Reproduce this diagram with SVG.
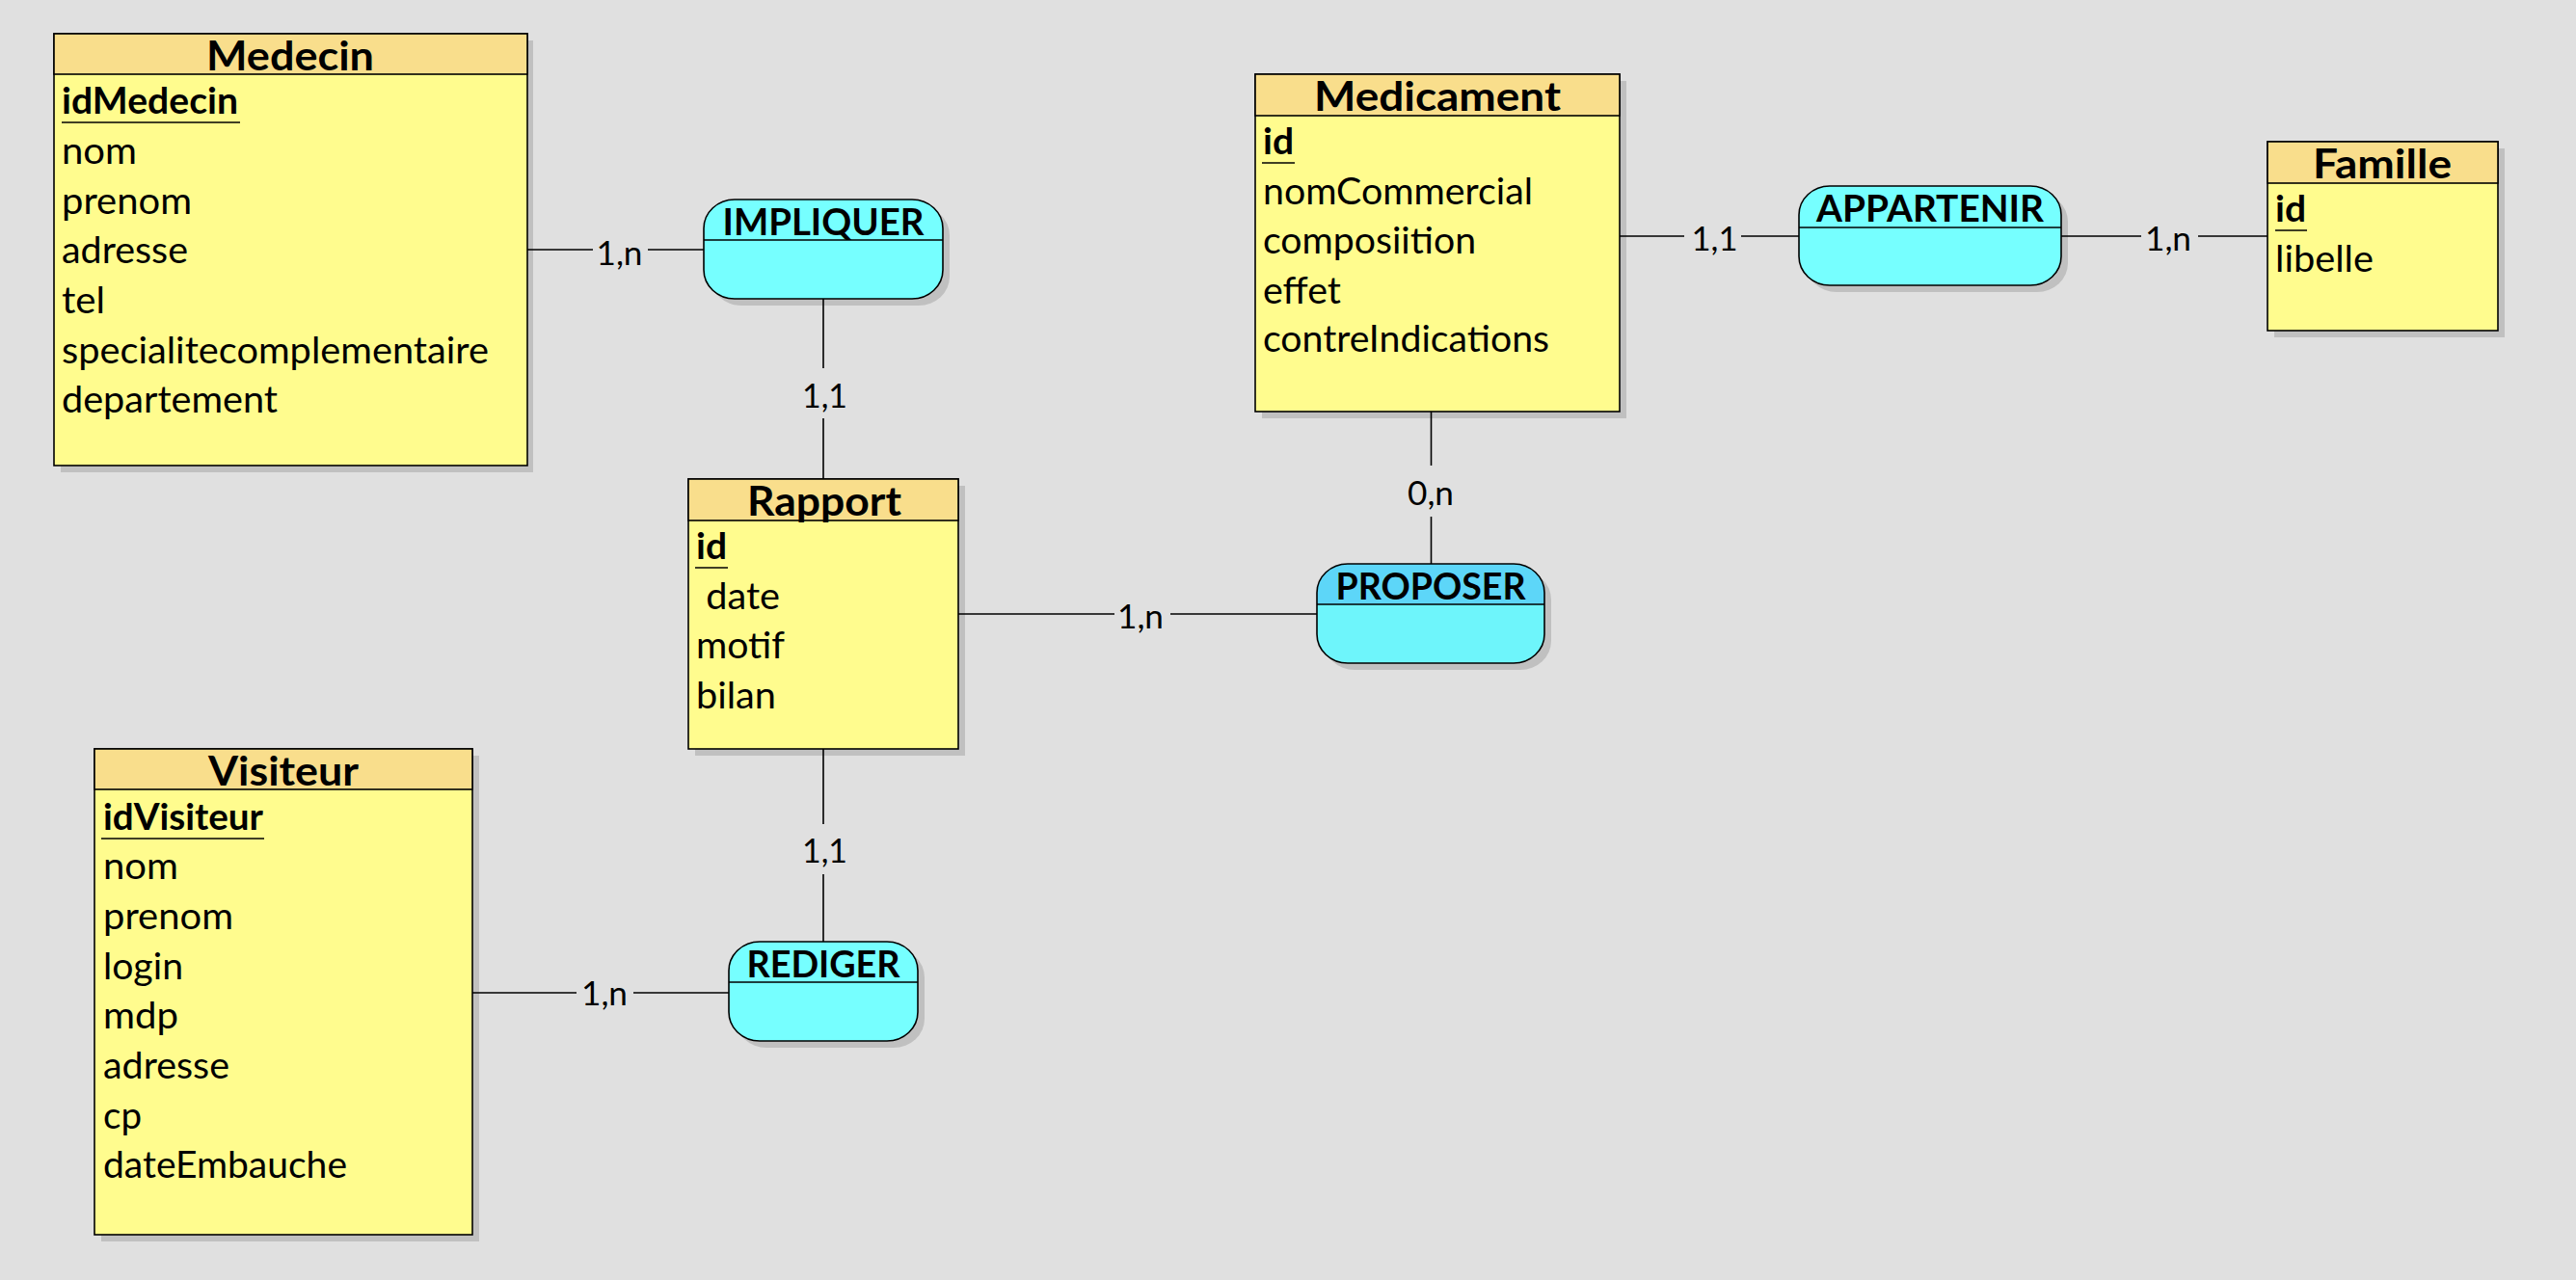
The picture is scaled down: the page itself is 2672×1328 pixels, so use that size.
<svg xmlns="http://www.w3.org/2000/svg" width="2672" height="1328" viewBox="0 0 2672 1328">
<style>
.sh{fill:#c0c0c0}
.eb{fill:#fffc8e;stroke:#000;stroke-width:1.6}
.eh{fill:#f9de8c;stroke:#000;stroke-width:1.6}
.rl{fill:#76ffff;stroke:#000;stroke-width:1.6}
.ln{stroke:#000;stroke-width:1.6;fill:none}
.ul{stroke:#000;stroke-width:1.5}
text{font-family:Lato,"Open Sans",sans-serif;fill:#000}
.t{font-size:42px;font-weight:700;text-anchor:middle}
.a{font-size:38.5px}
.k{font-size:38.5px;font-weight:700}
.r{font-size:38px;font-weight:700;text-anchor:middle}
.c{font-size:34px;text-anchor:middle}
</style>
<rect width="2672" height="1328" fill="#e0e0e0"/>

<g id="Medecin">
<rect class="sh" x="63" y="42" width="490" height="448"/>
<rect class="eb" x="56" y="35" width="491" height="448"/>
<rect class="eh" x="56" y="35" width="491" height="42"/>
<text class="t" x="301" y="73" textLength="174" lengthAdjust="spacingAndGlyphs">Medecin</text>
<text class="k" x="64" y="118" textLength="183" lengthAdjust="spacingAndGlyphs">idMedecin</text>
<line class="ul" x1="64" y1="127" x2="249" y2="127"/>
<text class="a" x="64" y="170" textLength="78" lengthAdjust="spacingAndGlyphs">nom</text>
<text class="a" x="64" y="222" textLength="135" lengthAdjust="spacingAndGlyphs">prenom</text>
<text class="a" x="64" y="273" textLength="131" lengthAdjust="spacingAndGlyphs">adresse</text>
<text class="a" x="64" y="325" textLength="45" lengthAdjust="spacingAndGlyphs">tel</text>
<text class="a" x="64" y="377" textLength="443" lengthAdjust="spacingAndGlyphs">specialitecomplementaire</text>
<text class="a" x="64" y="428" textLength="224" lengthAdjust="spacingAndGlyphs">departement</text>
</g>

<g id="IMPLIQUER">
<rect class="sh" x="737" y="214" width="248" height="103" rx="32" ry="30"/>
<rect class="rl" x="730" y="207" width="248" height="103" rx="32" ry="30"/>
<line class="ln" x1="730" y1="249" x2="978" y2="249"/>
<text class="r" x="854" y="244" textLength="209" lengthAdjust="spacingAndGlyphs">IMPLIQUER</text>
</g>

<g id="Rapport">
<rect class="sh" x="721" y="504" width="280" height="280"/>
<rect class="eb" x="714" y="497" width="280" height="280"/>
<rect class="eh" x="714" y="497" width="280" height="43"/>
<text class="t" x="855" y="535" textLength="160" lengthAdjust="spacingAndGlyphs">Rapport</text>
<text class="k" x="722" y="580" textLength="32" lengthAdjust="spacingAndGlyphs">id</text>
<line class="ul" x1="721" y1="589" x2="755" y2="589"/>
<text class="a" x="722" y="632" xml:space="preserve" textLength="87" lengthAdjust="spacingAndGlyphs"> date</text>
<text class="a" x="722" y="683" textLength="92" lengthAdjust="spacingAndGlyphs">motif</text>
<text class="a" x="722" y="735" textLength="83" lengthAdjust="spacingAndGlyphs">bilan</text>
</g>

<g id="Medicament">
<rect class="sh" x="1309" y="84" width="378" height="350"/>
<rect class="eb" x="1302" y="77" width="378" height="350"/>
<rect class="eh" x="1302" y="77" width="378" height="43"/>
<text class="t" x="1491" y="115" textLength="256" lengthAdjust="spacingAndGlyphs">Medicament</text>
<text class="k" x="1310" y="160" textLength="32" lengthAdjust="spacingAndGlyphs">id</text>
<line class="ul" x1="1309" y1="169" x2="1343" y2="169"/>
<text class="a" x="1310" y="212" textLength="280" lengthAdjust="spacingAndGlyphs">nomCommercial</text>
<text class="a" x="1310" y="263" textLength="221" lengthAdjust="spacingAndGlyphs">composiition</text>
<text class="a" x="1310" y="315" textLength="81" lengthAdjust="spacingAndGlyphs">effet</text>
<text class="a" x="1310" y="365" textLength="297" lengthAdjust="spacingAndGlyphs">contreIndications</text>
</g>

<g id="APPARTENIR">
<rect class="sh" x="1873" y="200" width="272" height="103" rx="32" ry="30"/>
<rect class="rl" x="1866" y="193" width="272" height="103" rx="32" ry="30"/>
<line class="ln" x1="1866" y1="236" x2="2138" y2="236"/>
<text class="r" x="2002" y="230" textLength="236" lengthAdjust="spacingAndGlyphs">APPARTENIR</text>
</g>

<g id="Famille">
<rect class="sh" x="2359" y="154" width="239" height="196"/>
<rect class="eb" x="2352" y="147" width="239" height="196"/>
<rect class="eh" x="2352" y="147" width="239" height="43"/>
<text class="t" x="2471" y="185" textLength="144" lengthAdjust="spacingAndGlyphs">Famille</text>
<text class="k" x="2360" y="230" textLength="32" lengthAdjust="spacingAndGlyphs">id</text>
<line class="ul" x1="2360" y1="239" x2="2393" y2="239"/>
<text class="a" x="2360" y="282" textLength="102" lengthAdjust="spacingAndGlyphs">libelle</text>
</g>

<g id="PROPOSER">
<rect class="sh" x="1373" y="592" width="236" height="103" rx="32" ry="30"/>
<rect x="1366" y="585" width="236" height="103" rx="32" ry="30" fill="#6ef5fb"/>
<path d="M1366 627V615A32 30 0 0 1 1398 585H1570A32 30 0 0 1 1602 615V627Z" fill="#5dd6f8"/>
<rect x="1366" y="585" width="236" height="103" rx="32" ry="30" fill="none" stroke="#000" stroke-width="1.6"/>
<line class="ln" x1="1366" y1="627" x2="1602" y2="627"/>
<text class="r" x="1484" y="622" textLength="197" lengthAdjust="spacingAndGlyphs">PROPOSER</text>
</g>

<g id="Visiteur">
<rect class="sh" x="105" y="784" width="392" height="504"/>
<rect class="eb" x="98" y="777" width="392" height="504"/>
<rect class="eh" x="98" y="777" width="392" height="42"/>
<text class="t" x="294" y="815" textLength="156" lengthAdjust="spacingAndGlyphs">Visiteur</text>
<text class="k" x="107" y="861" textLength="166" lengthAdjust="spacingAndGlyphs">idVisiteur</text>
<line class="ul" x1="105" y1="870" x2="274" y2="870"/>
<text class="a" x="107" y="912" textLength="78" lengthAdjust="spacingAndGlyphs">nom</text>
<text class="a" x="107" y="964" textLength="135" lengthAdjust="spacingAndGlyphs">prenom</text>
<text class="a" x="107" y="1016" textLength="83" lengthAdjust="spacingAndGlyphs">login</text>
<text class="a" x="107" y="1067" textLength="78" lengthAdjust="spacingAndGlyphs">mdp</text>
<text class="a" x="107" y="1119" textLength="131" lengthAdjust="spacingAndGlyphs">adresse</text>
<text class="a" x="107" y="1171" textLength="40" lengthAdjust="spacingAndGlyphs">cp</text>
<text class="a" x="107" y="1222" textLength="253" lengthAdjust="spacingAndGlyphs">dateEmbauche</text>
</g>

<g id="REDIGER">
<rect class="sh" x="763" y="984" width="196" height="103" rx="32" ry="30"/>
<rect class="rl" x="756" y="977" width="196" height="103" rx="32" ry="30"/>
<line class="ln" x1="756" y1="1019" x2="952" y2="1019"/>
<text class="r" x="854" y="1014" textLength="159" lengthAdjust="spacingAndGlyphs">REDIGER</text>
</g>

<g id="connectors">
<path class="ln" d="M547 259H615M672 259H730"/>
<path class="ln" d="M854 310V382M854 434V497"/>
<path class="ln" d="M854 777V855M854 907V977"/>
<path class="ln" d="M490 1030H598M657 1030H756"/>
<path class="ln" d="M994 637H1156M1214 637H1366"/>
<path class="ln" d="M1484.5 427V483M1484.5 536V585"/>
<path class="ln" d="M1680 245H1747M1806 245H1866"/>
<path class="ln" d="M2138 245H2221M2280 245H2352"/>
<text class="c" x="642.5" y="275" textLength="48" lengthAdjust="spacingAndGlyphs">1,n</text>
<text class="c" x="855.5" y="423" textLength="47" lengthAdjust="spacingAndGlyphs">1,1</text>
<text class="c" x="855.5" y="895" textLength="47" lengthAdjust="spacingAndGlyphs">1,1</text>
<text class="c" x="627" y="1043" textLength="48" lengthAdjust="spacingAndGlyphs">1,n</text>
<text class="c" x="1183" y="652" textLength="48" lengthAdjust="spacingAndGlyphs">1,n</text>
<text class="c" x="1484" y="524" textLength="48" lengthAdjust="spacingAndGlyphs">0,n</text>
<text class="c" x="1778.5" y="260" textLength="48" lengthAdjust="spacingAndGlyphs">1,1</text>
<text class="c" x="2249" y="260" textLength="48" lengthAdjust="spacingAndGlyphs">1,n</text>
</g>
</svg>
